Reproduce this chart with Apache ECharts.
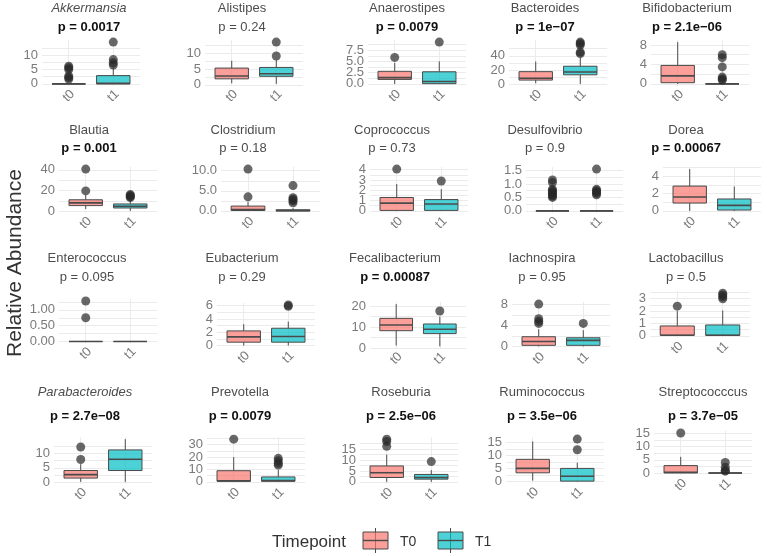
<!DOCTYPE html>
<html>
<head>
<meta charset="utf-8">
<script src="https://cdn.jsdelivr.net/npm/echarts@6/dist/echarts.min.js"></script>
<style>
  html, body { margin: 0; padding: 0; background: #fff; }
  #chart { width: 767px; height: 556px; }
</style>
</head>
<body>
<div id="chart"></div>
<script>
// ---- data ----
const genera = ['Akkermansia', 'Alistipes', 'Anaerostipes', 'Bacteroides', 'Bifidobacterium',
  'Blautia', 'Clostridium', 'Coprococcus', 'Desulfovibrio', 'Dorea',
  'Enterococcus', 'Eubacterium', 'Fecalibacterium', 'Iachnospira', 'Lactobacillus',
  'Parabacteroides', 'Prevotella', 'Roseburia', 'Ruminococcus', 'Streptococccus'];
const italicGenera = ['Akkermansia', 'Parabacteroides'];
const pValues = ['0.0017', '0.24', '0.0079', '1e−07', '2.1e−06',
  '0.001', '0.18', '0.73', '0.9', '0.00067',
  '0.095', '0.29', '0.00087', '0.95', '0.5',
  '2.7e−08', '0.0079', '2.5e−06', '3.5e−06', '3.7e−05'];
const timepoints = ['t0', 't1'];
const legendLabels = ['T0', 'T1'];

// [lower whisker, Q1, median, Q3, upper whisker]
const t0Box = [
  [0, 0, 0, 0, 0], [0.5, 1.9, 2.8, 5.3, 7.6], [0, 1.0, 1.4, 2.8, 4.7], [2, 6.3, 8.8, 18, 32], [0, 0.25, 1.65, 3.8, 8.6],
  [2.3, 5.6, 8.2, 11.2, 15.5], [0, 0.1, 0.35, 1.2, 2.3], [0, 0.05, 0.75, 1.3, 2.6], [0, 0, 0, 0, 0], [0, 0.9, 1.6, 2.85, 4.8],
  [0, 0, 0, 0, 0], [0, 0.5, 1.3, 2.2, 3.2], [1.2, 8.3, 11, 14.2, 21], [0, 0.2, 0.95, 1.85, 3.3], [0, 0.05, 0.05, 0.8, 2.0],
  [0.2, 1.5, 2.7, 4.1, 6.3], [0, 0.5, 0.8, 9, 20], [0, 2.0, 4.2, 7.3, 12.5], [0.3, 3.3, 5.0, 8.5, 15.4], [0, 0, 0.3, 2.8, 6.1]
];
const t1Box = [
  [0, 0, 0.2, 2.9, 5.8], [0.3, 2.7, 3.5, 5.5, 7.8], [0, 0.05, 0.55, 2.7, 5.0], [1, 13.6, 17.5, 25.5, 37], [0, 0, 0, 0, 0],
  [0.5, 3.3, 5.0, 7.2, 11], [0, 0, 0.05, 0.3, 0.7], [0, 0.05, 0.67, 1.1, 2.1], [0, 0, 0, 0, 0], [0, 0.1, 0.64, 1.37, 2.8],
  [0, 0, 0, 0, 0], [0, 0.5, 1.35, 2.6, 3.6], [0.8, 6.9, 9.0, 11.5, 15], [0, 0.2, 1.15, 1.65, 3.1], [0, 0.05, 0.05, 0.88, 2.05],
  [0.2, 4.1, 8.0, 11.2, 14.9], [0, 0.5, 1.0, 4.0, 9.5], [0, 1.25, 2.0, 3.4, 5.4], [0, 0.1, 2.0, 5.0, 7.2], [0, 0, 0, 0, 0]
];
const t0Outliers = [
  [1.7, 2.2, 2.8, 5.0, 5.6, 6.2], [], [5.9], [], [],
  [19.7, 40.7], [3.5, 10.4], [4.05], [0.5, 0.55, 0.6, 0.65, 0.7, 0.75, 0.8, 1.05, 1.15], [],
  [0.75, 1.28], [], [], [4.4, 4.8, 5.3, 8.1], [2.4],
  [7.9, 12.2], [34.5], [16.3, 18.5, 19.6], [], [15.1]
];
const t1Outliers = [
  [6.6, 7.4, 8.5, 14.6], [9.1, 13.5], [9.3], [43, 45, 55, 57, 59], [0.8, 1.0, 1.4, 3.5, 5.4, 6.0],
  [13.3, 14.2, 15.3, 16.2], [2.0, 2.5, 2.9, 3.3, 6.3], [2.9], [0.6, 0.65, 0.7, 0.75, 0.8, 1.55], [],
  [], [5.9, 6.1], [17.7], [4.4], [3.0, 3.15, 3.3, 3.45],
  [], [13.5, 15, 17, 19], [9.3], [12.2, 16.3], [0.7, 1.0, 2.2, 4.0]
];
const yBreaks = [
  [0, 5, 10], [0, 5, 10], [0, 2.5, 5, 7.5], [0, 20, 40], [0, 4, 8],
  [0, 20, 40], [0, 5, 10], [0, 1, 2, 3, 4], [0, 0.5, 1, 1.5], [0, 2, 4],
  [0, 0.5, 1], [0, 2, 4, 6], [0, 10, 20], [0, 4, 8], [0, 1, 2, 3],
  [0, 5, 10], [0, 10, 20, 30], [0, 5, 10, 15], [0, 5, 10, 15], [0, 5, 10, 15]
];
const yDigits = [0, 0, 1, 0, 0, 0, 1, 0, 1, 0, 2, 0, 0, 0, 0, 0, 0, 0, 0, 0];

// ---- layout: [left, right, top, bottom, title centre x] ----
const panels = [
  [42, 140, 40, 86, 89], [205, 303, 40, 86, 242], [368, 466, 40, 86, 407], [509, 607, 40, 86, 545], [651, 749, 40, 86, 687],
  [59, 157, 167, 213, 89], [221, 320, 167, 213, 243], [370, 468, 167, 213, 392], [526, 623, 167, 213, 545], [663, 761, 167, 213, 686],
  [59, 157, 299, 343.5, 87], [217, 315, 303, 347.5, 242], [370, 466, 302, 348.5, 395], [512, 610, 302, 348.5, 542], [650, 750, 291, 338, 686],
  [54, 152, 437, 484, 85], [207, 305, 437, 484, 240], [360, 458, 437, 484, 401], [506, 604, 437, 483.5, 542], [654, 752, 431, 475, 703]
];
const rowText = [[8, 27], [130, 148], [258, 277], [392, 416]];

const fills = ['rgba(248,118,109,0.7)', 'rgba(0,191,196,0.7)'];
const lineCol = '#4a4a4a';
const gridCol = '#ebebeb';
const font = 'Liberation Sans, Arial, sans-serif';

function boxRenderer(fill) {
  return function (params, api) {
    const x = api.value(0);
    const lo = api.coord([x, api.value(1)]);
    const q1 = api.coord([x, api.value(2)]);
    const md = api.coord([x, api.value(3)]);
    const q3 = api.coord([x, api.value(4)]);
    const hi = api.coord([x, api.value(5)]);
    const w = api.size([0.75, 0])[0];
    const cx = lo[0];
    const ln = { stroke: lineCol, lineWidth: 1 };
    return {
      type: 'group',
      children: [
        { type: 'line', shape: { x1: cx, y1: lo[1], x2: cx, y2: q1[1] }, style: ln },
        { type: 'line', shape: { x1: cx, y1: q3[1], x2: cx, y2: hi[1] }, style: ln },
        { type: 'rect', shape: { x: cx - w / 2, y: q3[1], width: w, height: q1[1] - q3[1] },
          style: { fill: fill, stroke: lineCol, lineWidth: 1 } },
        { type: 'line', shape: { x1: cx - w / 2, y1: md[1], x2: cx + w / 2, y2: md[1] },
          style: { stroke: lineCol, lineWidth: 1.6 } }
      ]
    };
  };
}

const grid = [], xAxis = [], yAxis = [], series = [], graphic = [];

genera.forEach(function (name, i) {
  const [l, r, t, b, cx] = panels[i];
  const all = t0Box[i].concat(t1Box[i], t0Outliers[i], t1Outliers[i]);
  const lo = Math.min.apply(null, all), hi = Math.max.apply(null, all);
  const pad = (hi - lo) * 0.05;
  const ymin = lo - pad, ymax = hi + pad;
  const br = yBreaks[i];
  const step = br[1] - br[0];
  let lines = [br[0] - step / 2];
  br.forEach(function (v) { lines.push(v, v + step / 2); });
  lines = lines.filter(function (v) { return v >= ymin && v <= ymax; });

  grid.push({ left: l, top: t, width: r - l, height: b - t });
  xAxis.push({
    gridIndex: i, type: 'value', min: 0.4, max: 2.6,
    axisLine: { show: false },
    axisTick: { show: false, customValues: [1, 2] },
    axisLabel: {
      customValues: [1, 2], formatter: function (v) { return timepoints[Math.round(v) - 1]; },
      rotate: 45, align: 'center', verticalAlign: 'middle', margin: 10,
      showMinLabel: true, showMaxLabel: true,
      color: '#7a7a7a', fontSize: 13, fontFamily: font
    },
    splitLine: { show: true, lineStyle: { color: gridCol, width: 1 } }
  });

  // tightly packed tick labels: split them over two stacked left axes so none get dropped
  [0, 1].forEach(function (part) {
    const labels = br.filter(function (v, j) { return j % 2 === part; });
    yAxis.push({
      gridIndex: i, type: 'value', position: 'left', offset: 0, min: ymin, max: ymax,
      axisLine: { show: false },
      axisTick: { show: false, customValues: part === 0 ? lines : labels },
      axisLabel: {
        customValues: labels, formatter: function (v) { return v.toFixed(yDigits[i]); },
        showMinLabel: true, showMaxLabel: true,
        margin: 4, color: '#7a7a7a', fontSize: 13, fontFamily: font
      },
      splitLine: { show: part === 0, lineStyle: { color: gridCol, width: 1 } }
    });
  });

  [t0Box, t1Box].forEach(function (boxes, k) {
    series.push({
      type: 'custom', name: legendLabels[k], xAxisIndex: i, yAxisIndex: 2 * i,
      renderItem: boxRenderer(fills[k]),
      encode: { x: 0, y: [1, 2, 3, 4, 5] },
      data: [[k + 1].concat(boxes[i])], z: 2
    });
  });
  series.push({
    type: 'scatter', xAxisIndex: i, yAxisIndex: 2 * i, symbolSize: 9, z: 3,
    itemStyle: { color: 'rgba(40,40,40,0.88)' },
    data: t0Outliers[i].map(function (v) { return [1, v]; })
      .concat(t1Outliers[i].map(function (v) { return [2, v]; }))
  });

  const row = Math.floor(i / 5);
  const pNum = Number(pValues[i].replace('−', '-'));
  graphic.push({
    type: 'text', x: cx, y: rowText[row][0],
    style: {
      text: name, align: 'center', verticalAlign: 'middle', fill: '#4d4d4d',
      fontSize: 13, fontFamily: font, fontStyle: italicGenera.indexOf(name) >= 0 ? 'italic' : 'normal'
    }
  });
  graphic.push({
    type: 'text', x: cx, y: rowText[row][1],
    style: {
      text: 'p = ' + pValues[i], align: 'center', verticalAlign: 'middle',
      fill: pNum < 0.05 ? '#111' : '#4d4d4d', fontSize: 13, fontFamily: font,
      fontWeight: pNum < 0.05 ? 'bold' : 'normal'
    }
  });
});

// y axis title
graphic.push({
  type: 'text', x: 15, y: 263, rotation: Math.PI / 2,
  style: { text: 'Relative Abundance', align: 'center', verticalAlign: 'middle', fill: '#333', fontSize: 21, fontFamily: font }
});

// legend
graphic.push({
  type: 'text', x: 272, y: 542,
  style: { text: 'Timepoint', align: 'left', verticalAlign: 'middle', fill: '#333', fontSize: 17, fontFamily: font }
});
[363, 438].forEach(function (gx, k) {
  graphic.push({ type: 'line', shape: { x1: gx + 12.5, y1: 528, x2: gx + 12.5, y2: 553 }, style: { stroke: lineCol, lineWidth: 1 } });
  graphic.push({ type: 'rect', shape: { x: gx, y: 532, width: 25, height: 17 }, style: { fill: fills[k], stroke: lineCol, lineWidth: 1 } });
  graphic.push({ type: 'line', shape: { x1: gx, y1: 540.5, x2: gx + 25, y2: 540.5 }, style: { stroke: lineCol, lineWidth: 1.4 } });
  graphic.push({
    type: 'text', x: gx + 37, y: 542,
    style: { text: legendLabels[k], align: 'left', verticalAlign: 'middle', fill: '#333', fontSize: 14, fontFamily: font }
  });
});

const chart = echarts.init(document.getElementById('chart'));
chart.setOption({
  animation: false,
  backgroundColor: '#fff',
  grid: grid,
  xAxis: xAxis,
  yAxis: yAxis,
  series: series,
  graphic: graphic
});
</script>
</body>
</html>
